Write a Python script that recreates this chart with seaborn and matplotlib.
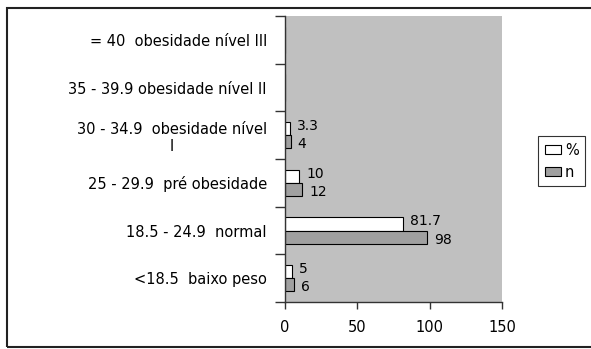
import matplotlib
matplotlib.use("Agg")
import matplotlib.pyplot as plt
from matplotlib.patches import Rectangle, Patch
import seaborn as sns
import pandas as pd
import numpy as np

# BMI classes, top to bottom
categories = [
    "= 40  obesidade nível III",
    "35 - 39.9 obesidade nível II",
    "30 - 34.9  obesidade nível\nI",
    "25 - 29.9  pré obesidade",
    "18.5 - 24.9  normal",
    "<18.5  baixo peso",
]
pct_values = [0, 0, 3.3, 10, 81.7, 5]
n_values = [0, 0, 4, 12, 98, 6]
series_names = ["%", "n"]
x_ticks = [0, 50, 100, 150]

df = pd.DataFrame({
    "classe": categories * 2,
    "valor": pct_values + n_values,
    "serie": [series_names[0]] * len(categories) + [series_names[1]] * len(categories),
})

sns.set_theme(style="white")
plt.rcParams["font.family"] = ["DejaVu Sans"]
plt.rcParams["text.color"] = "black"
plt.rcParams["xtick.color"] = "black"
plt.rcParams["ytick.color"] = "black"

FS = 10.5

fig = plt.figure(figsize=(5.91, 3.49), dpi=100)
ax = fig.add_axes([285 / 591, 1 - 302 / 349, (502 - 285) / 591, (302 - 16) / 349])

colors = {"%": "#ffffff", "n": "#a0a0a0"}
sns.barplot(data=df, y="classe", x="valor", hue="serie", order=categories,
            hue_order=series_names, palette=colors, orient="h", width=0.55,
            edgecolor="black", linewidth=0.8, legend=False, ax=ax)

ax.set_facecolor("#c0c0c0")
ax.set_xlim(0, 150)
ax.set_ylim(len(categories) - 0.5, -0.5)
ax.set_xlabel("")
ax.set_ylabel("")

# value labels beside each non-zero bar; the pair is nudged apart vertically
for cont, vals, dy in zip(ax.containers, [pct_values, n_values], [2.0, -2.0]):
    labels = [f"{v:g}" if v else "" for v in vals]
    anns = ax.bar_label(cont, labels=labels, padding=5, fontsize=10, color="black")
    for ann in anns:
        ann.xyann = (ann.xyann[0], dy)

# category boundaries carry the tick marks, names sit in the middle of each band
ax.set_yticks(np.arange(len(categories) + 1) - 0.5)
ax.set_yticklabels([])
ax.set_yticks(np.arange(len(categories)), minor=True)
ax.set_yticklabels(categories, minor=True, fontsize=FS, ha="right",
                   multialignment="center", color="black")
ax.tick_params(axis="y", which="major", direction="out", length=7, width=1,
               color="#333333", left=True)
ax.tick_params(axis="y", which="minor", length=0, pad=13, left=True)

ax.set_xticks(x_ticks)
ax.set_xticklabels([str(t) for t in x_ticks], fontsize=FS, color="black")
ax.tick_params(axis="x", direction="out", length=5, width=1, color="#333333",
               pad=8, bottom=True)

for side in ["top", "right"]:
    ax.spines[side].set_visible(False)
for side in ["left", "bottom"]:
    ax.spines[side].set_visible(True)
    ax.spines[side].set_color("#333333")
    ax.spines[side].set_linewidth(1)

handles = [Patch(facecolor=colors[s], edgecolor="black", linewidth=0.8) for s in series_names]
leg = fig.legend(handles, series_names, loc="upper left",
                 bbox_to_anchor=(538 / 591, 1 - 136 / 349), borderaxespad=0,
                 frameon=True, fancybox=False, fontsize=FS, handlelength=1.1,
                 handleheight=0.62, handletextpad=0.3, borderpad=0.45,
                 labelspacing=0.5)
leg.get_frame().set_edgecolor("black")
leg.get_frame().set_linewidth(0.8)

# outer chart frame
fig.patches.append(Rectangle((7 / 591, 1 - 347 / 349), 1.0, (347 - 8) / 349,
                             transform=fig.transFigure, fill=False,
                             edgecolor="#222222", linewidth=1.5))

fig.savefig("out.png", dpi=100, facecolor="white")
